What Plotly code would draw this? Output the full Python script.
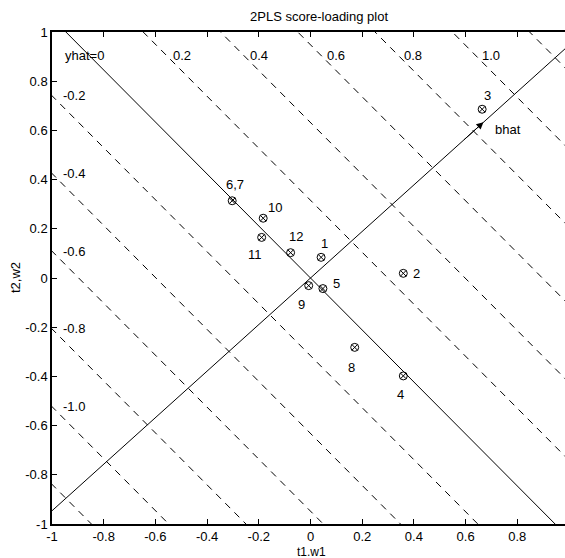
import plotly.graph_objects as go
import numpy as np

# ---- data ----
point_labels = ["1", "2", "3", "4", "5", "6,7", "8", "9", "10", "11", "12"]
t1 = [0.041, 0.359, 0.664, 0.359, 0.048, -0.303, 0.171, -0.007, -0.183, -0.189, -0.077]
t2 = [0.084, 0.019, 0.686, -0.398, -0.043, 0.314, -0.282, -0.031, 0.243, 0.165, 0.103]
bhat = [0.669, 0.633]
levels = [-1.2, -1.0, -0.8, -0.6, -0.4, -0.2, 0.0, 0.2, 0.4, 0.6, 0.8, 1.0, 1.2]
top_levels = [0.2, 0.4, 0.6, 0.8, 1.0]
top_level_text = ["0.2", "0.4", "0.6", "0.8", "1.0"]
left_levels = [-0.2, -0.4, -0.6, -0.8, -1.0]
left_level_text = ["-0.2", "-0.4", "-0.6", "-0.8", "-1.0"]
xticks = [-1, -0.8, -0.6, -0.4, -0.2, 0, 0.2, 0.4, 0.6, 0.8]
xtick_text = ["-1", "-0.8", "-0.6", "-0.4", "-0.2", "0", "0.2", "0.4", "0.6", "0.8"]
yticks = [-1, -0.8, -0.6, -0.4, -0.2, 0, 0.2, 0.4, 0.6, 0.8, 1]
ytick_text = ["-1", "-0.8", "-0.6", "-0.4", "-0.2", "0", "0.2", "0.4", "0.6", "0.8", "1"]

# label offsets in pixels (styling)
lab_dx = [3, 13, 5, -3, 14, 3, -3, -7, 12, -7, 5]
lab_dy = [14, 0, 14, -19, 5, 16, -20, -19, 11, -17, 16]

FONT = "Liberation Sans, Arial, Helvetica, sans-serif"
FS = 13
fig = go.Figure()

bx, by = bhat
xs = np.array([-1.5, 1.5])
for L in levels:
    ys = (L - bx * xs) / by
    fig.add_trace(go.Scatter(
        x=xs, y=ys, mode="lines",
        line=dict(color="black", width=1, dash="solid" if L == 0 else "7px,6px"),
        hoverinfo="skip", showlegend=False))

# bhat direction line
fig.add_trace(go.Scatter(
    x=xs, y=xs * by / bx, mode="lines",
    line=dict(color="black", width=1), hoverinfo="skip", showlegend=False))

# points
fig.add_trace(go.Scatter(
    x=t1, y=t2, mode="markers",
    marker=dict(symbol="circle-x-open", size=8, color="black", line=dict(width=1)),
    showlegend=False))

anns = []
for lab, x, y, dx, dy in zip(point_labels, t1, t2, lab_dx, lab_dy):
    anns.append(dict(x=x, y=y, xref="x", yref="y", text=lab, showarrow=False,
                     xshift=dx, yshift=dy, font=dict(size=FS, color="black", family=FONT)))

# level labels
anns.append(dict(x=-0.957, y=0.906, xref="x", yref="y", text="yhat=0", showarrow=False,
                 xanchor="left", font=dict(size=FS, color="black", family=FONT)))
for L, t in zip(top_levels, top_level_text):
    anns.append(dict(x=(L - by * 0.9) / bx, y=0.906, xref="x", yref="y", text=t,
                     showarrow=False, xanchor="left", xshift=3,
                     font=dict(size=FS, color="black", family=FONT)))
for L, t in zip(left_levels, left_level_text):
    anns.append(dict(x=-0.965, y=(L + bx) / by, xref="x", yref="y", text=t,
                     showarrow=False, xanchor="left",
                     font=dict(size=FS, color="black", family=FONT)))

# bhat arrow + label
anns.append(dict(x=bx, y=by, ax=bx * 0.88, ay=by * 0.88, xref="x", yref="y",
                 axref="x", ayref="y", text="", showarrow=True, arrowhead=2,
                 arrowsize=1.4, arrowwidth=1, arrowcolor="black"))
anns.append(dict(x=0.706, y=0.602, xref="x", yref="y", text="bhat", showarrow=False,
                 xanchor="left", font=dict(size=FS, color="black", family=FONT)))

# title and axis labels
anns.append(dict(x=0.5205, y=1.0305, xref="paper", yref="paper", text="2PLS score-loading plot",
                 showarrow=False, xanchor="center", yanchor="middle",
                 font=dict(size=FS, color="black", family=FONT)))
anns.append(dict(x=-0.072, y=0.5, xref="paper", yref="paper", text="t2,w2", textangle=-90,
                 showarrow=False, xanchor="center", yanchor="middle",
                 font=dict(size=FS, color="black", family=FONT)))
anns.append(dict(x=0.5068, y=-0.0559, xref="paper", yref="paper", text="t1.w1",
                 showarrow=False, xanchor="center", yanchor="middle", borderpad=0,
                 font=dict(size=12, color="black", family=FONT)))

fig.update_layout(
    width=565, height=558,
    margin=dict(l=52, r=0, t=32, b=34),
    paper_bgcolor="white", plot_bgcolor="white",
    annotations=anns,
    xaxis=dict(range=[-1, 0.9845], tickvals=xticks, ticktext=xtick_text,
               showgrid=False, zeroline=False, showline=True, linecolor="black",
               linewidth=1.5, mirror="ticks", ticks="inside", ticklen=5,
               tickcolor="black", tickwidth=1,
               tickfont=dict(size=FS, color="black", family=FONT)),
    yaxis=dict(range=[-1, 1], tickvals=yticks, ticktext=ytick_text,
               showgrid=False, zeroline=False, showline=True, linecolor="black",
               linewidth=1.5, mirror=False, ticks="inside", ticklen=5,
               tickcolor="black", tickwidth=1,
               tickfont=dict(size=FS, color="black", family=FONT)),
)

fig.write_html("out.html")
